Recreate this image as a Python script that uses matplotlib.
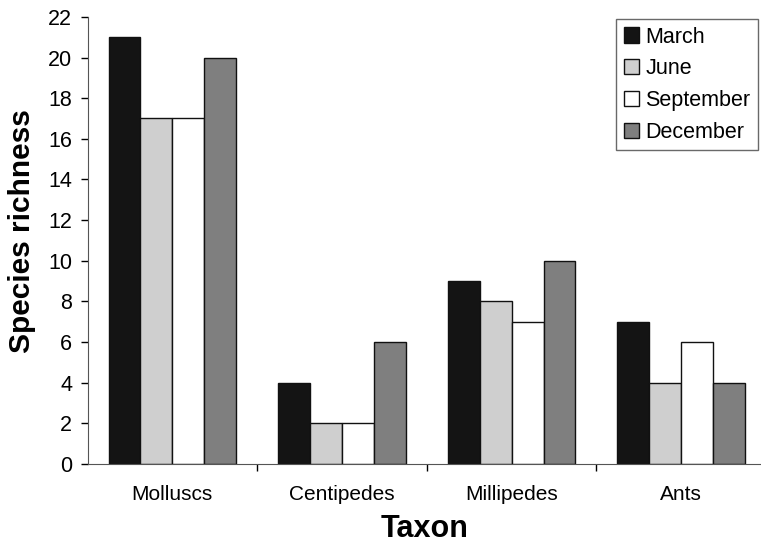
import matplotlib
matplotlib.use("Agg")
import matplotlib.pyplot as plt
import numpy as np

plt.rcParams['font.family'] = ['Liberation Sans', 'DejaVu Sans']

taxa = ["Molluscs", "Centipedes", "Millipedes", "Ants"]
months = ["March", "June", "September", "December"]
march = [21, 4, 9, 7]
june = [17, 2, 8, 4]
september = [17, 2, 7, 6]
december = [20, 6, 10, 4]
y_ticks = list(range(0, 23, 2))

series = [march, june, september, december]
colors = ["#141414", "#cfcfcf", "#ffffff", "#7f7f7f"]

fig = plt.figure(figsize=(7.61, 5.44), dpi=100)
ax = fig.add_axes([0.115, 0.147, 0.885, 0.822])

x = np.arange(len(taxa))
width = 0.188
for i, (vals, col, name) in enumerate(zip(series, colors, months)):
    offs = (i - 1.5) * width
    ax.bar(x + offs, vals, width, color=col, edgecolor="#111111",
           linewidth=1.0, label=name)

ax.set_xlim(-0.5, 3.47)
ax.set_ylim(0, 22)
ax.set_yticks(y_ticks)
ax.tick_params(axis='y', labelsize=15.5, direction='out', length=5, width=1, pad=6)

# category labels centered on groups, tick marks at group boundaries
ax.set_xticks(x)
ax.set_xticklabels(taxa, fontsize=15)
ax.tick_params(axis='x', length=0, pad=15)
ax.set_xticks([0.5, 1.5, 2.5], minor=True)
ax.tick_params(axis='x', which='minor', length=5, width=1, direction='out')

for s in ("top", "right"):
    ax.spines[s].set_visible(False)
ax.spines["left"].set_color("#555555")
ax.spines["bottom"].set_color("#555555")

ax.set_ylabel("Species richness", fontsize=21.5, fontweight='bold')
ax.yaxis.set_label_coords(-0.077, 0.52)
ax.set_xlabel("Taxon", fontsize=22, fontweight='bold', labelpad=7)

leg = ax.legend(loc="upper right", bbox_to_anchor=(0.999, 1.0), fontsize=15.5,
                frameon=True, fancybox=False, edgecolor="#444444",
                handlelength=0.7, handleheight=0.7, handletextpad=0.3,
                borderpad=0.35, labelspacing=0.5, borderaxespad=0.1)
leg.get_frame().set_linewidth(1.0)

fig.savefig("out.png", dpi=100)
